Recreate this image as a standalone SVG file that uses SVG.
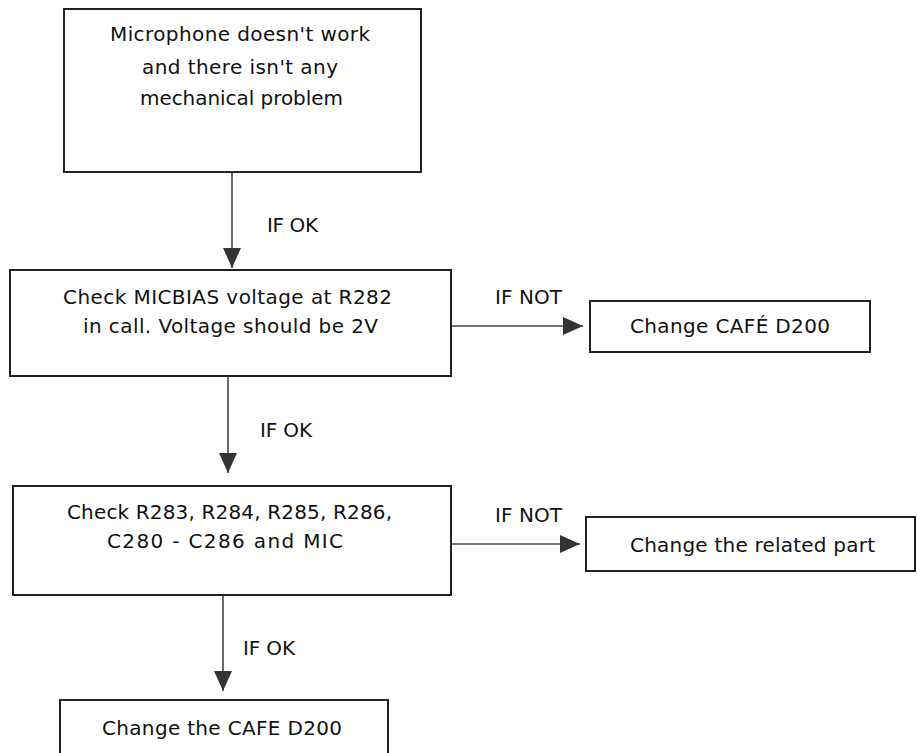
<svg xmlns="http://www.w3.org/2000/svg" width="917" height="753" viewBox="0 0 917 753">
  <style>
    .box { fill: #ffffff; stroke: #222222; stroke-width: 2; }
    .txt { font-family: "DejaVu Sans", Verdana, sans-serif; font-size: 20px; fill: #111111; }
    .edge { stroke: #444444; stroke-width: 1.6; fill: none; marker-end: url(#head); }
  </style>
  <defs>
    <marker id="head" markerUnits="userSpaceOnUse" markerWidth="20" markerHeight="18" refX="20" refY="9" orient="auto" viewBox="0 0 20 18">
      <path d="M0,0 L20,9 L0,18 Z" fill="#333333"/>
    </marker>
  </defs>
  <rect width="917" height="753" fill="#ffffff"/>

  <g id="connectors">
    <line class="edge" x1="232" y1="172" x2="232" y2="268"/>
    <text class="txt" x="267" y="232" textLength="51" lengthAdjust="spacing">IF OK</text>
    <line class="edge" x1="452" y1="326" x2="583" y2="326"/>
    <text class="txt" x="495" y="304" textLength="67" lengthAdjust="spacing">IF NOT</text>
    <line class="edge" x1="228" y1="376" x2="228" y2="473"/>
    <text class="txt" x="260" y="437" textLength="52" lengthAdjust="spacing">IF OK</text>
    <line class="edge" x1="452" y1="544" x2="580" y2="544"/>
    <text class="txt" x="495" y="522" textLength="67" lengthAdjust="spacing">IF NOT</text>
    <line class="edge" x1="223" y1="595" x2="223" y2="691"/>
    <text class="txt" x="243" y="655" textLength="52" lengthAdjust="spacing">IF OK</text>
  </g>

  <g id="start">
    <rect class="box" x="64" y="9" width="357" height="163"/>
    <text class="txt" x="110" y="41" textLength="260" lengthAdjust="spacing">Microphone doesn't work</text>
    <text class="txt" x="142" y="74" textLength="196" lengthAdjust="spacing">and there isn't any</text>
    <text class="txt" x="140" y="105" textLength="203" lengthAdjust="spacing">mechanical problem</text>
  </g>

  <g id="check-micbias">
    <rect class="box" x="10" y="270" width="441" height="106"/>
    <text class="txt" x="63" y="304" textLength="329" lengthAdjust="spacing">Check MICBIAS voltage at R282</text>
    <text class="txt" x="83" y="333" textLength="295" lengthAdjust="spacing">in call. Voltage should be 2V</text>
  </g>

  <g id="change-cafe-1">
    <rect class="box" x="590" y="301" width="280" height="51"/>
    <text class="txt" x="630" y="333" textLength="200" lengthAdjust="spacing">Change CAFÉ D200</text>
  </g>

  <g id="check-parts">
    <rect class="box" x="13" y="486" width="438" height="109"/>
    <text class="txt" x="67" y="519" textLength="325" lengthAdjust="spacing">Check R283, R284, R285, R286,</text>
    <text class="txt" x="107" y="548" textLength="236" lengthAdjust="spacing">C280 - C286 and MIC</text>
  </g>

  <g id="change-part">
    <rect class="box" x="586" y="517" width="329" height="54"/>
    <text class="txt" x="630" y="552" textLength="245" lengthAdjust="spacing">Change the related part</text>
  </g>

  <g id="change-cafe-2">
    <rect class="box" x="60" y="700" width="328" height="60"/>
    <text class="txt" x="102" y="735" textLength="240" lengthAdjust="spacing">Change the CAFE D200</text>
  </g>
</svg>
